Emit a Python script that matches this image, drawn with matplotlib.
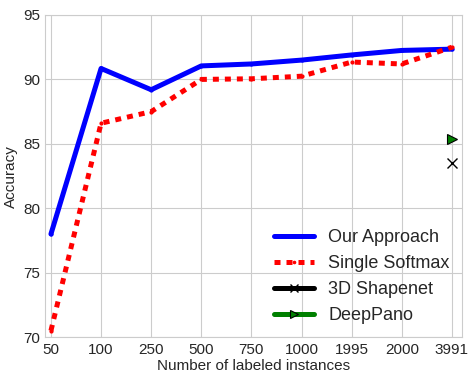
import matplotlib
matplotlib.use("Agg")
import matplotlib.pyplot as plt
import seaborn as sns
import numpy as np

sns.set_style("whitegrid")
plt.rcParams["font.family"] = ["Liberation Sans", "DejaVu Sans"]

labels = ["50", "100", "250", "500", "750", "1000", "1995", "2000", "3991"]
ours = [78.0, 90.85, 89.2, 91.05, 91.2, 91.5, 91.9, 92.25, 92.35]
softmax = [70.5, 86.6, 87.5, 90.0, 90.05, 90.25, 91.35, 91.2, 92.5]
shapenet = 83.5
deeppano = 85.4

x = np.arange(len(labels))

fig = plt.figure(figsize=(4.68, 3.75), dpi=100)
ax = fig.add_axes([0.096, 0.101, 0.891, 0.859])

ax.plot(x, ours, "b-", lw=3.6, marker=".", ms=4, label="Our Approach")
ax.plot(x, softmax, color="r", ls=(0, (1.2, 1.2)), lw=3.6, marker=".", ms=4,
        label="Single Softmax")
ax.plot([x[-1]], [shapenet], color="k", lw=3.6, marker="x", ms=7, mew=1,
        label="3D Shapenet")
ax.plot([x[-1]], [deeppano], color="green", lw=3.6, marker=">", ms=7,
        mec="k", mew=0.8, label="DeepPano")

ax.set_xticks(x)
ax.set_xticklabels(labels)
ax.set_xlim(-0.12, 8.2)
ax.set_ylim(70, 95)
ax.set_yticks([70, 75, 80, 85, 90, 95])
ax.tick_params(axis="x", labelsize=11, pad=1)
ax.tick_params(axis="y", labelsize=11, pad=0)
ax.set_xlabel("Number of labeled instances", fontsize=11, labelpad=1)
ax.set_ylabel("Accuracy", fontsize=11, labelpad=4)

ax.legend(loc="lower right", fontsize=13, frameon=False, handlelength=2.2,
          labelspacing=0.5, markerscale=0.8, bbox_to_anchor=(1.01, -0.01))

fig.savefig("out.png", dpi=100)
